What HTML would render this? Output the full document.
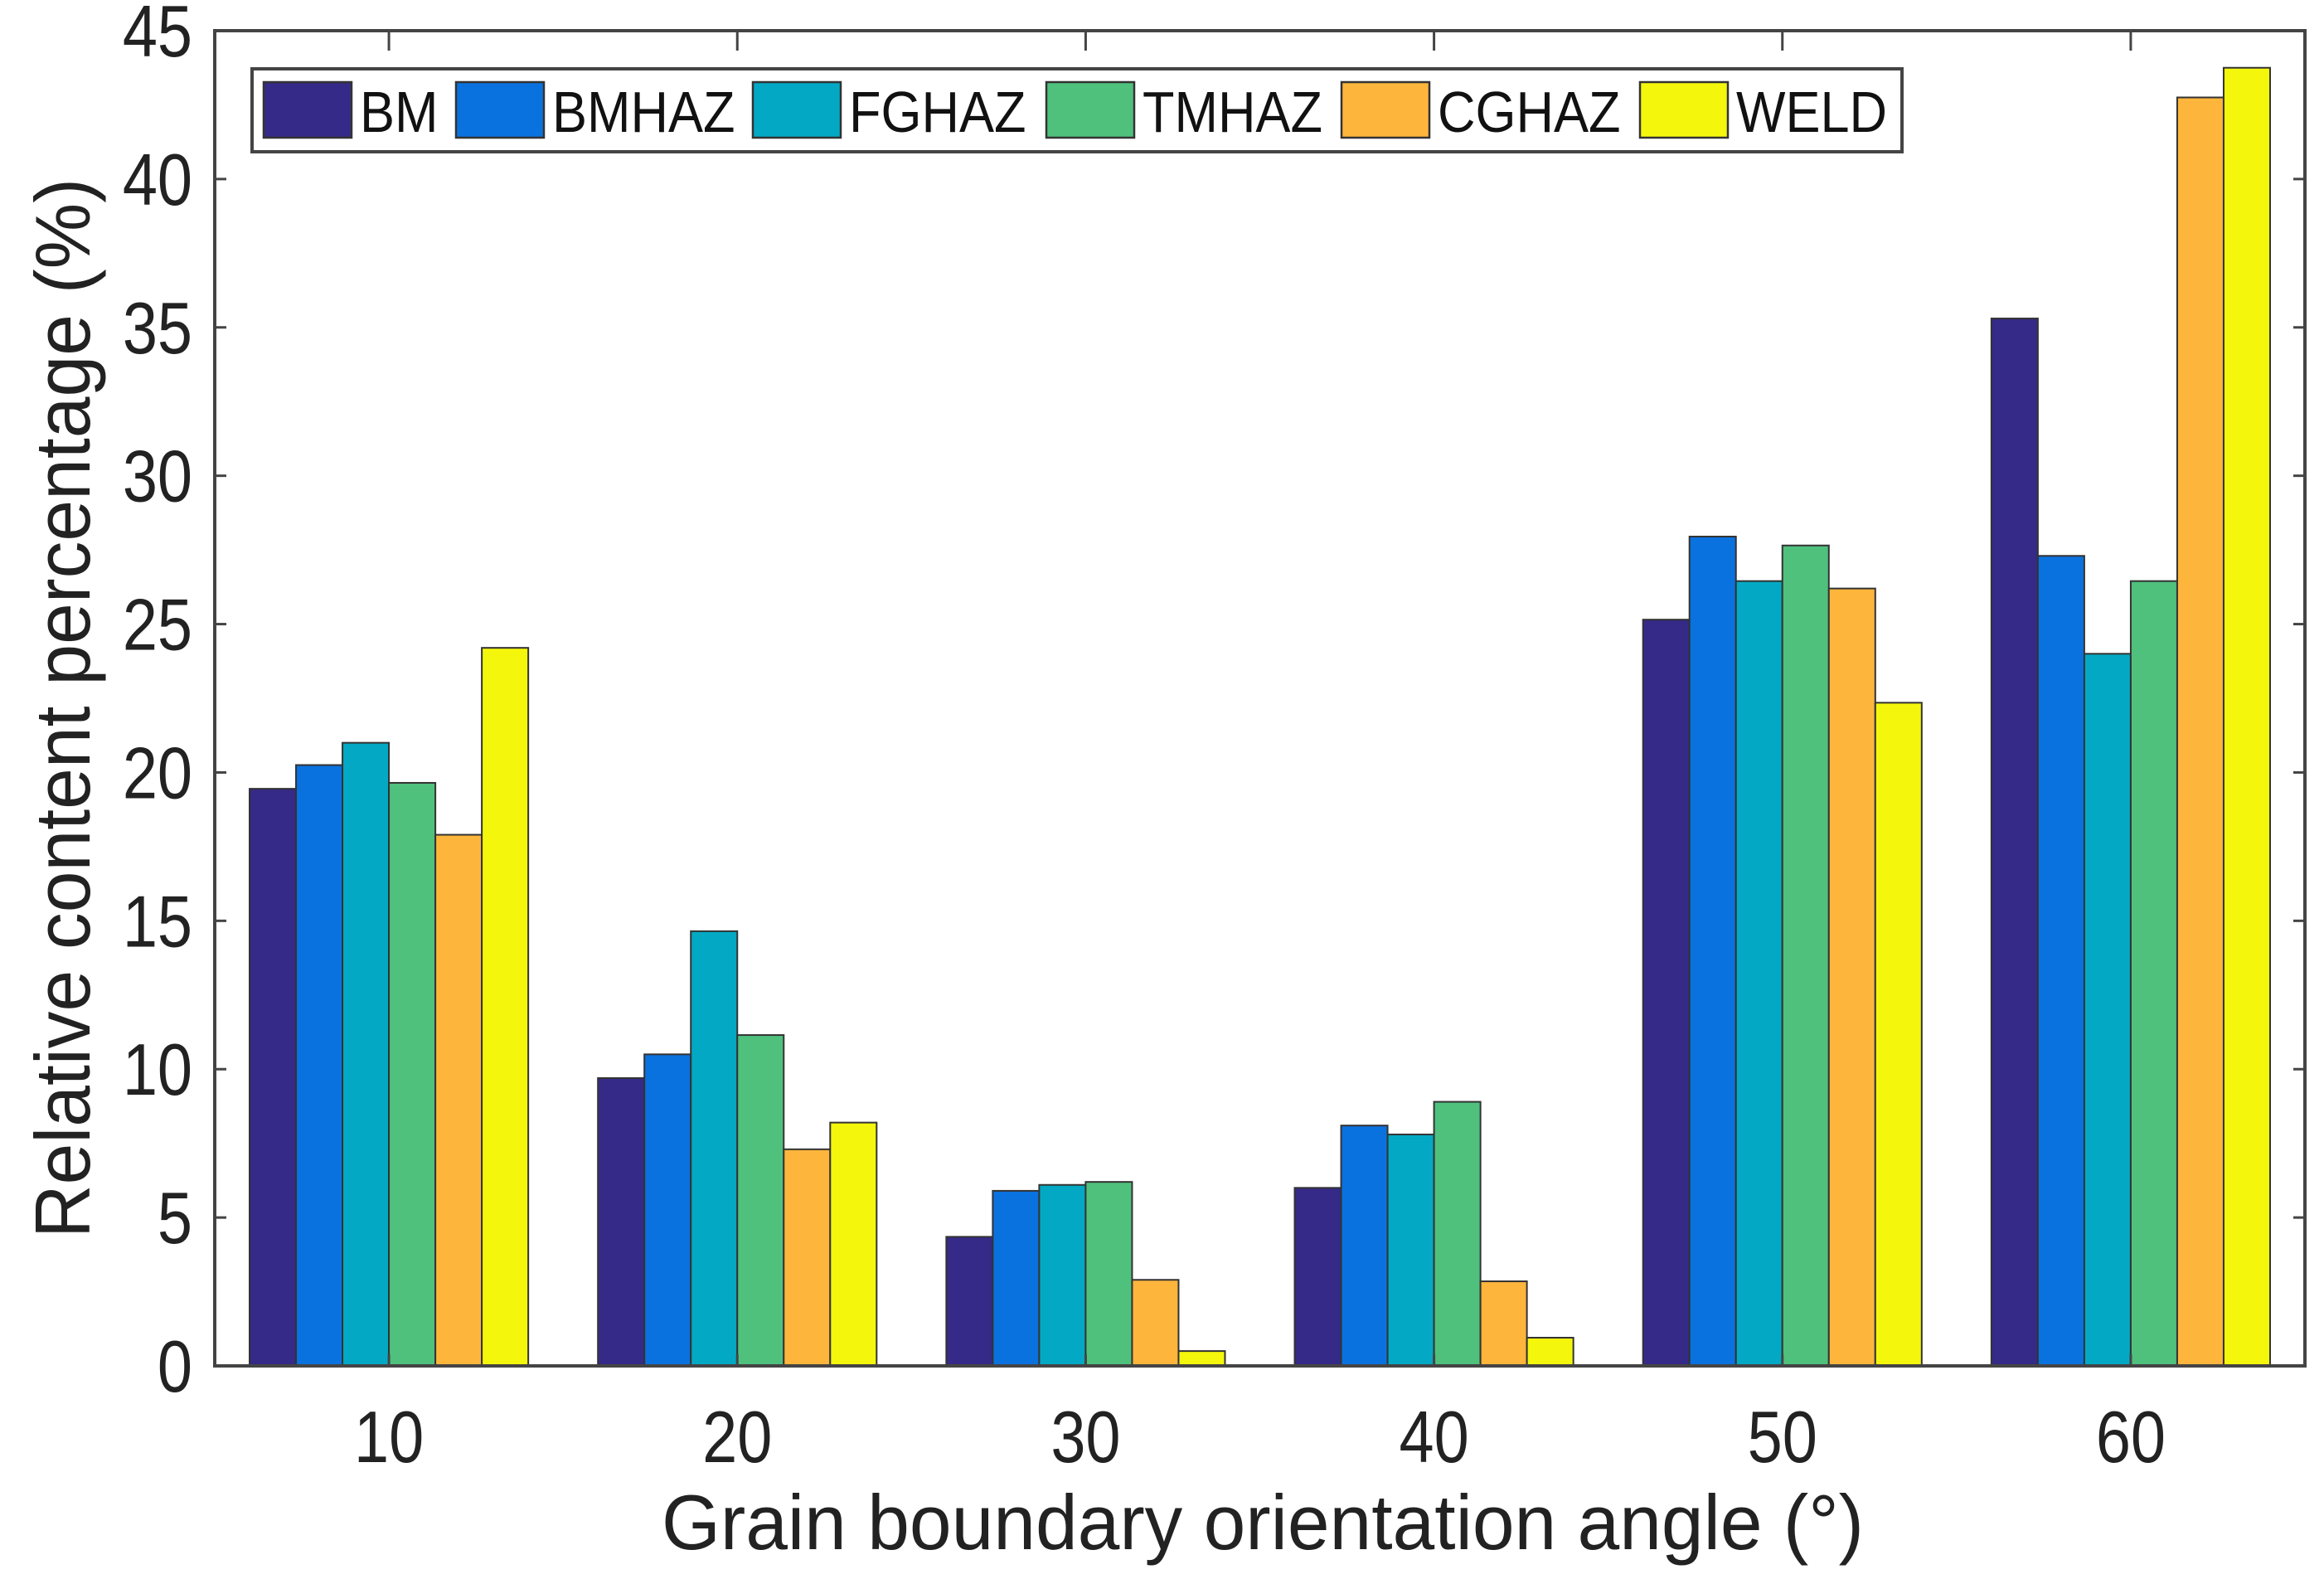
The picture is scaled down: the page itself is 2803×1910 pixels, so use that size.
<!DOCTYPE html>
<html><head><meta charset="utf-8"><style>
html,body{margin:0;padding:0;background:#fff}
svg{display:block;font-family:"Liberation Sans",Arial,sans-serif}
</style></head><body>
<svg id="chart" width="2803" height="1910" viewBox="0 0 2803 1910" xmlns="http://www.w3.org/2000/svg">
<rect width="2803" height="1910" fill="#fff"/>
<g id="bars"></g>
<g id="axes"></g>
<g id="legend"></g>
<text x="798" y="1868" textLength="1450" lengthAdjust="spacingAndGlyphs" font-size="94" fill="#222">Grain boundary orientation angle (°)</text>
<text transform="translate(108,1493) rotate(-90)" textLength="1278" lengthAdjust="spacingAndGlyphs" font-size="94" fill="#222">Relative content percentage (%)</text>
</svg>
<script>
const categories = [10, 20, 30, 40, 50, 60];
const seriesNames = ["BM", "BMHAZ", "FGHAZ", "TMHAZ", "CGHAZ", "WELD"];
const BM    = [19.45, 9.7, 4.35, 6.0, 25.15, 35.3];
const BMHAZ = [20.25, 10.5, 5.9, 8.1, 27.95, 27.3];
const FGHAZ = [21.0, 14.65, 6.1, 7.8, 26.45, 24.0];
const TMHAZ = [19.65, 11.15, 6.2, 8.9, 27.65, 26.45];
const CGHAZ = [17.9, 7.3, 2.9, 2.85, 26.2, 42.75];
const WELD  = [24.2, 8.2, 0.5, 0.95, 22.35, 43.75];
const yTicks = [0, 5, 10, 15, 20, 25, 30, 35, 40, 45];
const xTicks = [10, 20, 30, 40, 50, 60];
const colors = ["#352a87", "#0a72df", "#03a9c4", "#4fc17d", "#fdb53c", "#f4f70b"];

const series = [BM, BMHAZ, FGHAZ, TMHAZ, CGHAZ, WELD];
const NS = "http://www.w3.org/2000/svg";
const L = 259, R = 2780, T = 37, B = 1647;
const xMin = 5, xMax = 65, yMin = 0, yMax = 45;
const xs = v => L + (v - xMin) / (xMax - xMin) * (R - L);
const ys = v => B - (v - yMin) / (yMax - yMin) * (B - T);
function mk(tag, attrs, parent) {
  const e = document.createElementNS(NS, tag);
  for (const k in attrs) e.setAttribute(k, attrs[k]);
  parent.appendChild(e);
  return e;
}
const gB = document.getElementById("bars");
const gA = document.getElementById("axes");
const gL = document.getElementById("legend");
const groupW = 8, barW = groupW / series.length;
series.forEach((arr, si) => {
  arr.forEach((v, ci) => {
    const x0 = categories[ci] - groupW / 2 + si * barW;
    const r = mk("rect", {x: xs(x0), y: ys(v), width: xs(x0 + barW) - xs(x0), height: ys(0) - ys(v),
      fill: colors[si], stroke: "#333", "stroke-width": 2}, gB);
    
    
  });
});
const box = mk("rect", {x: L, y: T, width: R - L, height: B - T, fill: "none", stroke: "#444", "stroke-width": 4}, gA);


yTicks.forEach(v => {
  const y = ys(v);
  mk("line", {x1: L, x2: L + 14, y1: y, y2: y, stroke: "#444", "stroke-width": 3}, gA);
  mk("line", {x1: R, x2: R - 14, y1: y, y2: y, stroke: "#444", "stroke-width": 3}, gA);
  const t = mk("text", {transform: "translate(232," + (y + 31) + ") scale(0.86,1)", "text-anchor": "end", "font-size": 88, fill: "#222"}, gA);
  t.textContent = v;
  
  
});
xTicks.forEach(v => {
  const x = xs(v);
  mk("line", {x1: x, x2: x, y1: B, y2: B - 14, stroke: "#444", "stroke-width": 3}, gA);
  mk("line", {x1: x, x2: x, y1: T, y2: T + 24, stroke: "#444", "stroke-width": 3}, gA);
  const t = mk("text", {transform: "translate(" + x + ",1763) scale(0.86,1)", "text-anchor": "middle", "font-size": 88, fill: "#222"}, gA);
  t.textContent = v;
  
  
});
const lb = mk("rect", {x: 304, y: 83, width: 1990, height: 100, fill: "#fff", stroke: "#444", "stroke-width": 4}, gL);


const swX = [318, 550, 908, 1262, 1618, 1978];
seriesNames.forEach((n, i) => {
  const s = mk("rect", {x: swX[i], y: 99, width: 106, height: 67, fill: colors[i], stroke: "#333", "stroke-width": 2.5}, gL);
  
  
  const t = mk("text", {transform: "translate(" + (swX[i] + 116) + ",159) scale(0.9,1)", "font-size": 70, fill: "#111"}, gL);
  t.textContent = n;
  
  
});
</script>
</body></html>
